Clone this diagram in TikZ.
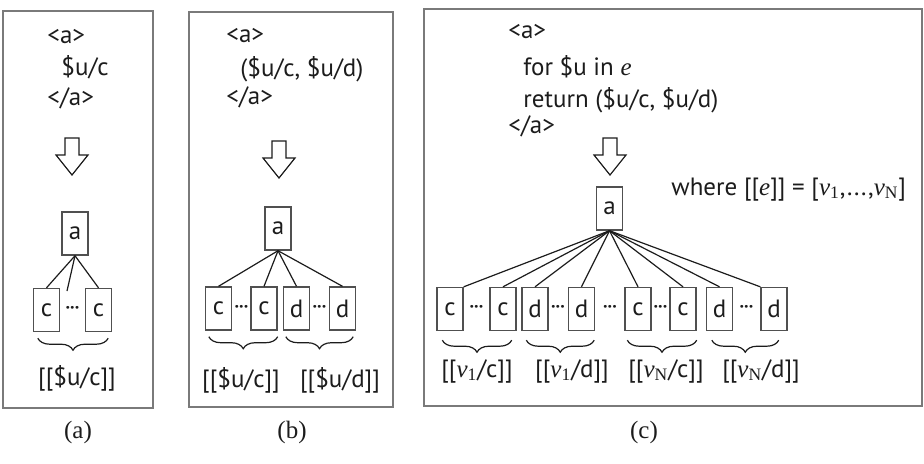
\documentclass[tikz,border=0pt]{standalone}
\usepackage{fontspec}
\setmainfont{PT Sans}
\newfontfamily\serifvar{Liberation Serif}
\usetikzlibrary{calc,decorations.pathreplacing}
\definecolor{inkgray}{HTML}{1c1c1c}
\definecolor{boxgray}{HTML}{505050}
\definecolor{framegray}{HTML}{7a7a7a}

% italic variables set in a serif face
\newcommand{\varit}[1]{{\serifvar\itshape #1}}
\newcommand{\vsub}[1]{{\serifvar\itshape v}\textsubscript{\serifvar #1}}
% hollow arrow pointing down: centre x, top y
\newcommand{\hollowdown}[2]{%
  \draw[line width=0.6pt, draw=inkgray] (#1-7,#2) -- (#1+7,#2) -- (#1+7,#2+17) -- (#1+16,#2+17)
    -- (#1,#2+37) -- (#1-16,#2+17) -- (#1-7,#2+17) -- cycle;}

\begin{document}
\begin{tikzpicture}[x=0.5pt,y=-0.5pt,font=\fontsize{12.5}{14}\selectfont,text=inkgray,
  panel/.style={draw=framegray,line width=1pt},
  elem/.style={draw=boxgray,line width=0.7pt,minimum width=13pt,minimum height=21.5pt,inner sep=0pt},
  edge/.style={draw=inkgray,line width=0.6pt},
  dots/.style={font=\bfseries\fontsize{9}{10}\selectfont,inner sep=0pt},
  code/.style={anchor=base west,inner sep=0pt},
  brace/.style={decorate,decoration={brace,amplitude=6pt,mirror},draw=inkgray,line width=0.6pt},
  caption/.style={font=\serifvar\fontsize{12.5}{14}\selectfont}]
\useasboundingbox (0,0) rectangle (924,463);

% ---------- panel (a) ----------
\draw[panel] (3,11) rectangle (153,408);
\node[code] (qa1) at (47,43) {<a>};
\node[code] (qa2) at (61,75) {\$u/c};
\node[code] (qa3) at (47,105) {</a>};
\hollowdown{72}{138}
\node[elem] (Aa) at (75,233.5) {a};
\node[elem] (Ac1) at (46.5,310) {c};
\node[elem] (Ac2) at (98.5,310) {c};
\node[dots] (Adots) at (72.5,310) {···};
\coordinate (Amid) at (67,291);
\draw[edge] (Aa.south) -- (Ac1.north);
\draw[edge] (Aa.south) -- (Amid);
\draw[edge] (Aa.south) -- (Ac2.north);
\draw[brace] ($(Ac1.south west)+(5,6)$) -- ($(Ac2.south east)+(-4,6)$);
\node (Alab) at (77,378) {[[\$u/c]]};
\node[caption] (capA) at (78,432) {(a)};

% ---------- panel (b) ----------
\draw[panel] (189,12) rectangle (393,407);
\node[code] (qb1) at (226,42) {<a>};
\node[code] (qb2) at (240,76) {(\$u/c, \$u/d)};
\node[code] (qb3) at (226,104) {</a>};
\hollowdown{279}{141}
\node[elem] (Ba) at (278,228.5) {a};
\foreach \n/\x/\t in {c1/218.5/c, c2/264/c, d1/296.5/d, d2/342.5/d}
  \node[elem] (B\n) at (\x,308.5) {\t};
\node[dots] (Bdots1) at (241.5,308.5) {···};
\node[dots] (Bdots2) at (319.5,308.5) {···};
\foreach \n in {c1,c2,d1,d2}
  \draw[edge] (Ba.south) -- (B\n.north);
\draw[brace] ($(Bc1.south west)+(4,6)$) -- ($(Bc2.south east)+(0,6)$);
\draw[brace] ($(Bd1.south west)+(3,6)$) -- ($(Bd2.south east)+(-3,6)$);
\node (Blab1) at (241,380) {[[\$u/c]]};
\node (Blab2) at (340,380) {[[\$u/d]]};
\node[caption] (capB) at (292,432) {(b)};

% ---------- panel (c) ----------
\draw[panel] (424,9) rectangle (922,406);
\node[code] (qc1) at (508,38) {<a>};
\node[code] (qc2) at (523,75) {for \$u in \varit{e}};
\node[code] (qc3) at (523,107) {return (\$u/c, \$u/d)};
\node[code] (qc4) at (508,133) {</a>};
\hollowdown{610}{138}
\node[elem] (Ca) at (609.5,208.5) {a};
\node[code] (where) at (671,195) {where [[\varit{e}]] = [\vsub{1},...,\vsub{N}]};
\foreach \n/\x/\t in {c1/450/c, c2/503/c, d1/535/d, d2/581.5/d, c3/638/c, c4/683/c, d3/719.5/d, d4/774/d}
  \node[elem] (C\n) at (\x,309) {\t};
\foreach \n/\x in {1/476.5, 2/558, 3/610, 4/660.5, 5/746.5}
  \node[dots] (Cdots\n) at (\x,309) {···};
\foreach \n/\anc in {c1/north east, c2/north, d1/north, d2/north, c3/north, c4/north, d3/north, d4/north west}
  \draw[edge] (Ca.south) -- (C\n.\anc);
\draw[brace] ($(Cc1.south west)+(6,9)$) -- ($(Cc2.south east)+(-5,9)$);
\draw[brace] ($(Cd1.south west)+(5,9)$) -- ($(Cd2.south east)+(-1,9)$);
\draw[brace] ($(Cc3.south west)+(3,9)$) -- ($(Cc4.south east)+(0,9)$);
\draw[brace] ($(Cd3.south west)+(6,9)$) -- ($(Cd4.south east)+(-9,9)$);
\node (Clab1) at (477,371) {[[\vsub{1}/c]]};
\node (Clab2) at (572,371) {[[\vsub{1}/d]]};
\node (Clab3) at (666,371) {[[\vsub{N}/c]]};
\node (Clab4) at (761,371) {[[\vsub{N}/d]]};
\node[caption] (capC) at (644,432) {(c)};
\end{tikzpicture}
\end{document}
